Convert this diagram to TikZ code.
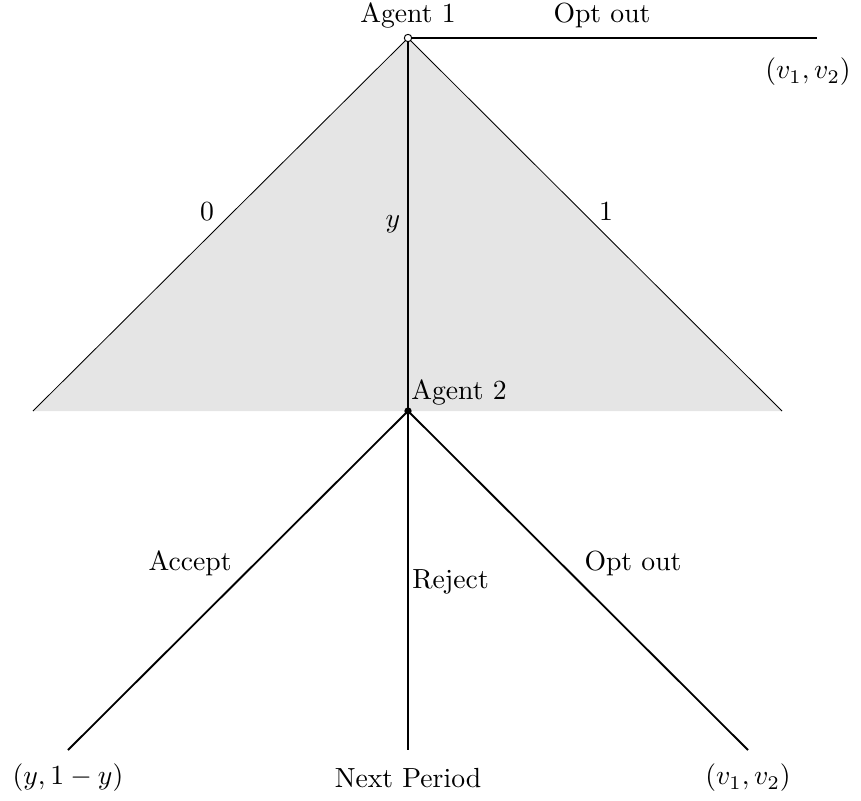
\documentclass[tikz,border=0pt]{standalone}
\newcommand{\bigtxt}[1]{\scalebox{1.66}{#1}}
\begin{document}
\begin{tikzpicture}[x=0.6pt,y=-0.6pt,
  thickline/.style={line width=1.1pt,black},
  thinline/.style={line width=0.5pt,black},
  lbl/.style={inner sep=0pt,font=\fontsize{10}{12}\selectfont}]
\useasboundingbox (0,0) rectangle (861,801);
\coordinate (a1) at (408,38);
\coordinate (a2) at (408,411);
\coordinate (tl) at (33,411);
\coordinate (tr) at (782,411);
\fill[gray!20] (a1) -- (tl) -- (tr) -- cycle;
\draw[thinline] (tl) -- (a1) -- (tr);
\coordinate (oo) at (817,38);
\coordinate (b1) at (68,750);
\coordinate (b2) at (408,750);
\coordinate (b3) at (748,750);
\draw[thickline] (a1) -- (oo);
\draw[thickline] (a1) -- (a2);
\draw[thickline] (a2) -- (b1);
\draw[thickline] (a2) -- (b2);
\draw[thickline] (a2) -- (b3);
\node[circle,draw,fill=white,inner sep=0pt,minimum size=4.4pt,line width=0.6pt] (n1) at (a1) {};
\node[circle,fill=black,inner sep=0pt,minimum size=4.4pt] (n2) at (a2) {};
\node[lbl] (t1) at (408,15) {\bigtxt{Agent 1}};
\node[lbl] (t2) at (602,15) {\bigtxt{Opt out}};
\node[lbl] (t3) at (808,72) {\bigtxt{$(v_1,v_2)$}};
\node[lbl] (t4) at (207,212) {\bigtxt{$0$}};
\node[lbl] (t5) at (393,224) {\bigtxt{$y$}};
\node[lbl] (t6) at (606,212) {\bigtxt{$1$}};
\node[lbl,anchor=west] (t7) at (411,392) {\bigtxt{Agent 2}};
\node[lbl] (t8) at (190,563) {\bigtxt{Accept}};
\node[lbl,anchor=west] (t9) at (412,582) {\bigtxt{Reject}};
\node[lbl] (t10) at (633,563) {\bigtxt{Opt out}};
\node[lbl] (t11) at (68,778) {\bigtxt{$(y,1-y)$}};
\node[lbl] (t12) at (408,778) {\bigtxt{Next Period}};
\node[lbl] (t13) at (748,778) {\bigtxt{$(v_1,v_2)$}};
\end{tikzpicture}
\end{document}
